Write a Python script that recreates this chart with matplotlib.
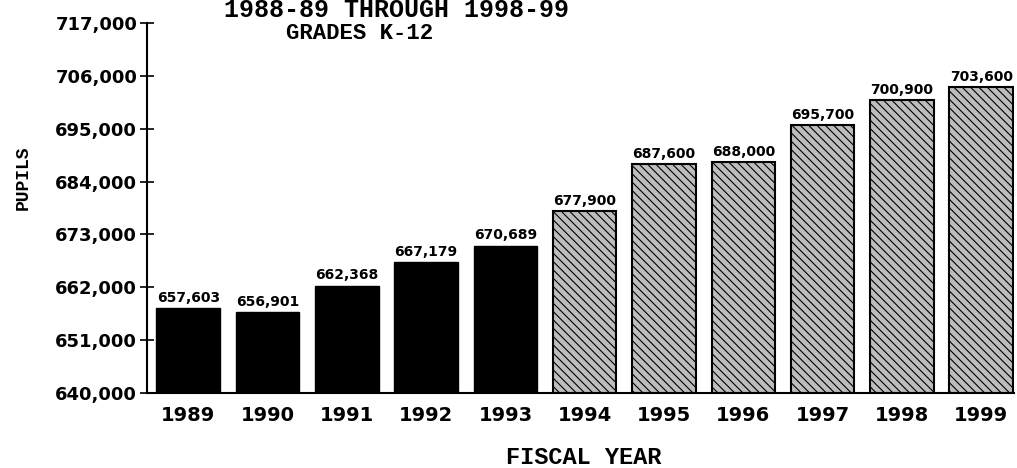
import matplotlib.pyplot as plt
from matplotlib.ticker import FuncFormatter

years = ['1989', '1990', '1991', '1992', '1993', '1994',
         '1995', '1996', '1997', '1998', '1999']
pupils = [657603, 656901, 662368, 667179, 670689, 677900,
          687600, 688000, 695700, 700900, 703600]
n_actual = 5  # first five are actual, rest are projections
y_ticks = [640000, 651000, 662000, 673000, 684000, 695000, 706000, 717000]

plt.rcParams['hatch.linewidth'] = 0.8
plt.rcParams['hatch.color'] = '#333333'

fig = plt.figure(figsize=(10.17, 4.68), dpi=100)
ax = fig.add_axes([0.1445, 0.160, 0.853, 0.791])

x = list(range(len(years)))
for i, v in enumerate(pupils):
    if i < n_actual:
        ax.bar(i, v - y_ticks[0], bottom=y_ticks[0], width=0.8,
               color='black', edgecolor='black')
    else:
        ax.bar(i, v - y_ticks[0], bottom=y_ticks[0], width=0.8,
               facecolor='#bdbdbd', edgecolor='black', linewidth=1.5,
               hatch='\\\\\\\\')
    ax.text(i, v + 700, f'{v:,}', ha='center', va='bottom',
            fontsize=10, fontweight='bold', family='DejaVu Sans')

ax.set_ylim(y_ticks[0], y_ticks[-1])
ax.set_xlim(-0.52, 10.42)
ax.set_yticks(y_ticks)
ax.yaxis.set_major_formatter(FuncFormatter(lambda v, p: f'{int(v):,}'))
ax.set_xticks(x)
ax.set_xticklabels(years)

for lab in ax.get_yticklabels():
    lab.set_fontsize(13)
    lab.set_fontweight('bold')
for lab in ax.get_xticklabels():
    lab.set_fontsize(14)
    lab.set_fontweight('bold')

ax.spines['top'].set_visible(False)
ax.spines['right'].set_visible(False)
ax.spines['left'].set_linewidth(1.5)
ax.spines['bottom'].set_linewidth(1.5)
ax.tick_params(axis='y', direction='inout', length=10, width=1.2, pad=2)
ax.tick_params(axis='x', length=0, pad=9)

fig.text(0.39, 0.978, '1988-89 THROUGH 1998-99', ha='center', va='center',
         fontsize=18, fontweight='bold', family='Liberation Mono')
fig.text(0.354, 0.928, 'GRADES K-12', ha='center', va='center',
         fontsize=16, fontweight='bold', family='Liberation Mono')
fig.text(0.023, 0.62, 'PUPILS', ha='center', va='center', rotation=90,
         fontsize=13, fontweight='bold', family='Liberation Mono')
fig.text(0.574, 0.022, 'FISCAL YEAR', ha='center', va='center',
         fontsize=17, fontweight='bold', family='Liberation Mono')

fig.savefig('out.png', dpi=100)
